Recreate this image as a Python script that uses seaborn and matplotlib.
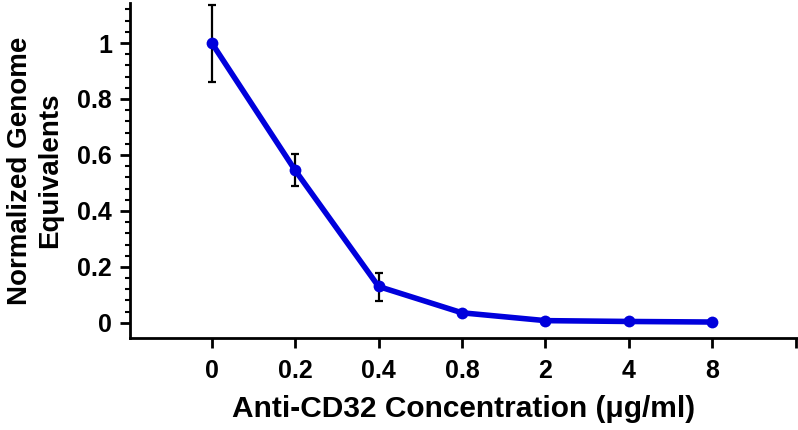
import matplotlib
matplotlib.use("Agg")
import matplotlib.pyplot as plt
import seaborn as sns
import numpy as np
import pandas as pd
from matplotlib.ticker import FixedLocator

categories = ["0", "0.2", "0.4", "0.8", "2", "4", "8"]
values = [1.0, 0.545, 0.130, 0.036, 0.008, 0.005, 0.003]
err_low = [0.139, 0.055, 0.051, 0.0, 0.0, 0.0, 0.0]
err_high = [0.136, 0.059, 0.049, 0.0, 0.0, 0.0, 0.0]
y_ticks = [0, 0.2, 0.4, 0.6, 0.8, 1.0]
y_tick_labels = ["0", "0.2", "0.4", "0.6", "0.8", "1"]

sns.set_theme(style="ticks")
plt.rcParams['font.family'] = ['Liberation Sans', 'DejaVu Sans']
plt.rcParams['font.weight'] = 'bold'

df = pd.DataFrame({"pos": np.arange(len(categories)), "value": values})

fig = plt.figure(figsize=(7.98, 4.30), dpi=100)
ax = fig.add_axes([0.163, 0.214, 0.836, 0.779])

ax.errorbar(df["pos"], df["value"], yerr=[err_low, err_high], fmt="none",
            ecolor="black", elinewidth=1.6, capsize=3, capthick=1.6, zorder=2)
sns.lineplot(data=df, x="pos", y="value", ax=ax, color="#0000dc", linewidth=4,
             marker="o", markersize=8.5, markeredgewidth=0, zorder=3)

ax.set_xlim(-0.98, 7.02)
ax.set_ylim(-0.054, 1.143)
ax.xaxis.set_major_locator(FixedLocator(list(range(len(categories) + 1))))
ax.set_xticklabels(categories + [""])
ax.set_yticks(y_ticks)
ax.set_yticklabels(y_tick_labels)
ax.yaxis.set_minor_locator(FixedLocator([i * 0.04 for i in range(0, 29) if i % 5 != 0]))

for s in ["top", "right"]:
    ax.spines[s].set_visible(False)
for s in ["left", "bottom"]:
    ax.spines[s].set_color("black")
    ax.spines[s].set_linewidth(2)

ax.tick_params(axis="both", which="major", direction="out", length=7, width=2,
               color="black", labelsize=18, labelcolor="black", pad=6)
ax.tick_params(axis="y", which="minor", direction="out", length=3.5, width=1.5, color="black")
ax.tick_params(axis="x", which="major", pad=8)
for lbl in ax.get_xticklabels() + ax.get_yticklabels():
    lbl.set_fontweight("bold")

ax.set_xlabel("Anti-CD32 Concentration (\u03bcg/ml)", fontsize=21.5, fontweight="bold",
              color="black", labelpad=9)
ax.set_ylabel("Normalized Genome\nEquivalents", fontsize=20, fontweight="bold",
              color="black", labelpad=10, linespacing=1.2)

fig.savefig("out.png", dpi=100)
